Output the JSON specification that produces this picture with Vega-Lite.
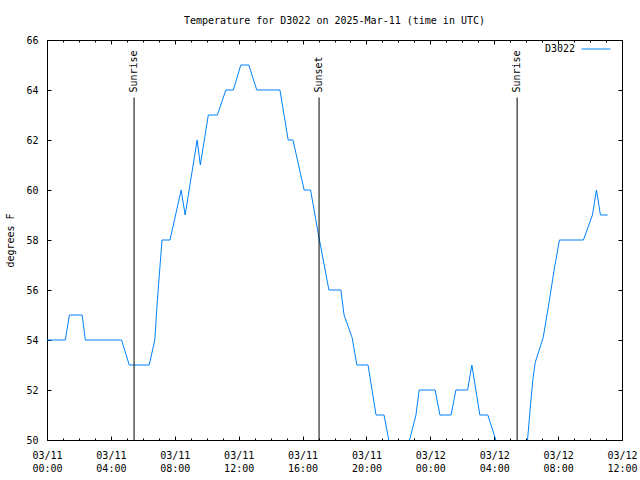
{
  "$schema": "https://vega.github.io/schema/vega-lite/v6.json",
  "autosize": {"type": "none"},
  "padding": {"left": 47, "top": 40, "right": 18, "bottom": 40},
  "width": 575,
  "height": 400,
  "title": {"text": "Temperature for D3022 on 2025-Mar-11 (time in UTC)", "font": "DejaVu Sans Mono", "fontSize": 10, "fontWeight": "normal", "color": "black", "anchor": "middle", "offset": 8},
  "config": {
    "font": "DejaVu Sans Mono",
    "view": {"stroke": "black", "strokeWidth": 1},
    "axis": {"labelFont": "DejaVu Sans Mono", "labelFontSize": 10, "labelColor": "black", "titleFont": "DejaVu Sans Mono", "titleFontSize": 10, "titleFontWeight": "normal", "titleColor": "black", "domain": false, "ticks": false, "gridColor": "black", "gridOpacity": 1, "gridWidth": 1}
  },
  "datasets": {
    "temps": [
      {"time": "2025-03-11T00:00:00Z", "temp": 54, "station": "D3022"},
      {"time": "2025-03-11T01:09:00Z", "temp": 54, "station": "D3022"},
      {"time": "2025-03-11T01:24:00Z", "temp": 55, "station": "D3022"},
      {"time": "2025-03-11T02:12:00Z", "temp": 55, "station": "D3022"},
      {"time": "2025-03-11T02:24:00Z", "temp": 54, "station": "D3022"},
      {"time": "2025-03-11T04:40:00Z", "temp": 54, "station": "D3022"},
      {"time": "2025-03-11T05:09:00Z", "temp": 53, "station": "D3022"},
      {"time": "2025-03-11T06:24:00Z", "temp": 53, "station": "D3022"},
      {"time": "2025-03-11T06:45:00Z", "temp": 54, "station": "D3022"},
      {"time": "2025-03-11T06:54:00Z", "temp": 55.5, "station": "D3022"},
      {"time": "2025-03-11T07:12:00Z", "temp": 58, "station": "D3022"},
      {"time": "2025-03-11T07:42:00Z", "temp": 58, "station": "D3022"},
      {"time": "2025-03-11T08:24:00Z", "temp": 60, "station": "D3022"},
      {"time": "2025-03-11T08:39:00Z", "temp": 59, "station": "D3022"},
      {"time": "2025-03-11T09:24:00Z", "temp": 62, "station": "D3022"},
      {"time": "2025-03-11T09:36:00Z", "temp": 61, "station": "D3022"},
      {"time": "2025-03-11T10:06:00Z", "temp": 63, "station": "D3022"},
      {"time": "2025-03-11T10:40:00Z", "temp": 63, "station": "D3022"},
      {"time": "2025-03-11T11:12:00Z", "temp": 64, "station": "D3022"},
      {"time": "2025-03-11T11:40:00Z", "temp": 64, "station": "D3022"},
      {"time": "2025-03-11T12:08:00Z", "temp": 65, "station": "D3022"},
      {"time": "2025-03-11T12:38:00Z", "temp": 65, "station": "D3022"},
      {"time": "2025-03-11T13:08:00Z", "temp": 64, "station": "D3022"},
      {"time": "2025-03-11T14:35:00Z", "temp": 64, "station": "D3022"},
      {"time": "2025-03-11T15:06:00Z", "temp": 62, "station": "D3022"},
      {"time": "2025-03-11T15:24:00Z", "temp": 62, "station": "D3022"},
      {"time": "2025-03-11T16:06:00Z", "temp": 60, "station": "D3022"},
      {"time": "2025-03-11T16:30:00Z", "temp": 60, "station": "D3022"},
      {"time": "2025-03-11T17:00:00Z", "temp": 58.2, "station": "D3022"},
      {"time": "2025-03-11T17:39:00Z", "temp": 56, "station": "D3022"},
      {"time": "2025-03-11T18:24:00Z", "temp": 56, "station": "D3022"},
      {"time": "2025-03-11T18:36:00Z", "temp": 55, "station": "D3022"},
      {"time": "2025-03-11T19:06:00Z", "temp": 54.1, "station": "D3022"},
      {"time": "2025-03-11T19:24:00Z", "temp": 53, "station": "D3022"},
      {"time": "2025-03-11T20:06:00Z", "temp": 53, "station": "D3022"},
      {"time": "2025-03-11T20:36:00Z", "temp": 51, "station": "D3022"},
      {"time": "2025-03-11T21:06:00Z", "temp": 51, "station": "D3022"},
      {"time": "2025-03-11T21:42:00Z", "temp": 49, "station": "D3022"},
      {"time": "2025-03-11T22:18:00Z", "temp": 49, "station": "D3022"},
      {"time": "2025-03-11T23:06:00Z", "temp": 51, "station": "D3022"},
      {"time": "2025-03-11T23:18:00Z", "temp": 52, "station": "D3022"},
      {"time": "2025-03-12T00:18:00Z", "temp": 52, "station": "D3022"},
      {"time": "2025-03-12T00:36:00Z", "temp": 51, "station": "D3022"},
      {"time": "2025-03-12T01:18:00Z", "temp": 51, "station": "D3022"},
      {"time": "2025-03-12T01:36:00Z", "temp": 52, "station": "D3022"},
      {"time": "2025-03-12T02:20:00Z", "temp": 52, "station": "D3022"},
      {"time": "2025-03-12T02:36:00Z", "temp": 53, "station": "D3022"},
      {"time": "2025-03-12T03:06:00Z", "temp": 51, "station": "D3022"},
      {"time": "2025-03-12T03:36:00Z", "temp": 51, "station": "D3022"},
      {"time": "2025-03-12T04:06:00Z", "temp": 50, "station": "D3022"},
      {"time": "2025-03-12T04:24:00Z", "temp": 49, "station": "D3022"},
      {"time": "2025-03-12T05:57:00Z", "temp": 49, "station": "D3022"},
      {"time": "2025-03-12T06:18:00Z", "temp": 51.6, "station": "D3022"},
      {"time": "2025-03-12T06:25:00Z", "temp": 52.4, "station": "D3022"},
      {"time": "2025-03-12T06:34:00Z", "temp": 53.1, "station": "D3022"},
      {"time": "2025-03-12T06:49:00Z", "temp": 53.6, "station": "D3022"},
      {"time": "2025-03-12T07:04:00Z", "temp": 54.1, "station": "D3022"},
      {"time": "2025-03-12T07:26:00Z", "temp": 55.5, "station": "D3022"},
      {"time": "2025-03-12T07:45:00Z", "temp": 56.8, "station": "D3022"},
      {"time": "2025-03-12T08:05:00Z", "temp": 58, "station": "D3022"},
      {"time": "2025-03-12T09:35:00Z", "temp": 58, "station": "D3022"},
      {"time": "2025-03-12T10:09:00Z", "temp": 59, "station": "D3022"},
      {"time": "2025-03-12T10:24:00Z", "temp": 60, "station": "D3022"},
      {"time": "2025-03-12T10:39:00Z", "temp": 59, "station": "D3022"},
      {"time": "2025-03-12T11:06:00Z", "temp": 59, "station": "D3022"}
    ],
    "events": [
      {"time": "2025-03-11T05:27:00Z", "event": "Sunrise"},
      {"time": "2025-03-11T17:02:00Z", "event": "Sunset"},
      {"time": "2025-03-12T05:26:00Z", "event": "Sunrise"}
    ]
  },
  "layer": [
    {
      "data": {"name": "temps"},
      "mark": {"type": "line", "strokeWidth": 1, "clip": true},
      "encoding": {
        "x": {
          "field": "time", "type": "temporal",
          "scale": {"type": "utc", "domain": [1741651200000, 1741780800000]},
          "axis": {"orient": "bottom", "title": null, "values": [1741651200000, 1741665600000, 1741680000000, 1741694400000, 1741708800000, 1741723200000, 1741737600000, 1741752000000, 1741766400000, 1741780800000], "labelExpr": "[utcFormat(datum.value, '%m/%d'), utcFormat(datum.value, '%H:%M')]", "labelFlush": false, "labelOverlap": false, "labelPadding": 10, "labelLineHeight": 13, "labelBaseline": "top", "grid": true, "gridDash": [4, 392, 4, 1000]}
        },
        "y": {
          "field": "temp", "type": "quantitative",
          "scale": {"domain": [50, 66], "nice": false, "zero": false},
          "axis": {"title": "degrees F", "values": [50, 52, 54, 56, 58, 60, 62, 64, 66], "labelPadding": 9, "titlePadding": 10, "grid": true, "gridDash": [4, 567, 4, 1000]}
        },
        "color": {
          "field": "station", "type": "nominal",
          "scale": {"range": ["#0080ff"]},
          "legend": {"title": null, "orient": "none", "legendX": 534, "legendY": -6, "padding": 0, "symbolType": "stroke", "symbolSize": 841, "symbolStrokeWidth": 1, "labelAlign": "right", "labelOffset": -36, "labelFont": "DejaVu Sans Mono", "labelFontSize": 10, "labelColor": "black"}
        }
      }
    },
    {
      "data": {"name": "events"},
      "mark": {"type": "rule", "color": "black", "strokeWidth": 1},
      "encoding": {
        "x": {"field": "time", "type": "temporal", "scale": {"type": "utc"}, "axis": {"orient": "top", "title": null, "labels": false, "tickCount": 36, "grid": true, "gridDash": [2, 396, 2, 1000]}},
        "y": {"datum": 50, "type": "quantitative"},
        "y2": {"datum": 63.7}
      }
    },
    {
      "data": {"name": "events"},
      "mark": {"type": "text", "angle": 270, "align": "left", "baseline": "middle", "font": "DejaVu Sans Mono", "fontSize": 10, "color": "black"},
      "encoding": {
        "x": {"field": "time", "type": "temporal", "scale": {"type": "utc"}, "axis": null},
        "y": {"datum": 63.9, "type": "quantitative"},
        "text": {"field": "event"}
      }
    }
  ],
  "resolve": {"axis": {"x": "independent"}}
}
